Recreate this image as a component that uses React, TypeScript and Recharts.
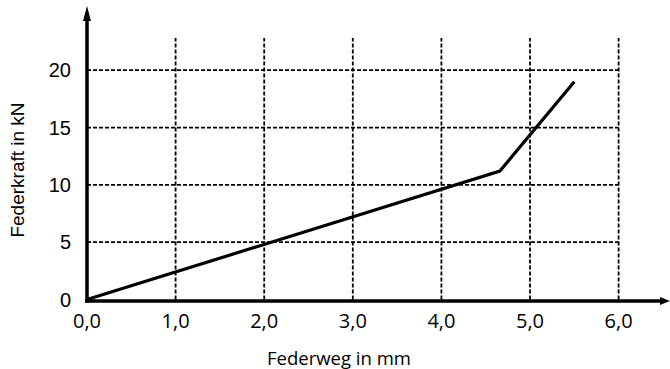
import { Label, Line, LineChart, ReferenceLine, XAxis, YAxis } from "recharts";

const wegMm = [0, 4.66, 5.5];
const kraftKn = [0, 11.2, 19.0];
const xTicks = [0, 1, 2, 3, 4, 5, 6];
const yTicks = [0, 5, 10, 15, 20];
const xLabels = ["0,0", "1,0", "2,0", "3,0", "4,0", "5,0", "6,0"];
const xMax = 6.58;
const yMax = 25.6;
const gridTop = 22.8;

const data = wegMm.map((x, i) => ({ x, y: kraftKn[i] }));

const arial = "'Liberation Sans', Arial, sans-serif";
const calibriLike = "'Open Sans', Lato, sans-serif";

const xTick = (props: any) => {
  const { x, y, index } = props;
  return (
    <text x={x} y={y + 28} textAnchor="middle" fontSize={20} fontFamily={calibriLike} fill="#000">
      {xLabels[index]}
    </text>
  );
};

const yTick = (props: any) => {
  const { x, y, payload } = props;
  return (
    <text x={x - 16} y={y + 7} textAnchor="end" fontSize={20} fontFamily={arial} fill="#000">
      {payload.value}
    </text>
  );
};

function arrowLine(dir: "x" | "y") {
  return (p: any) => {
    const { x1, y1, x2, y2 } = p;
    if (dir === "x") {
      return (
        <g>
          <line x1={x1 - 2} y1={y1 + 1.5} x2={x2 - 6} y2={y2 + 1.5} stroke="#000" strokeWidth={3.5} />
          <polygon points={`${x2},${y2 + 1.5} ${x2 - 10},${y2 - 2.5} ${x2 - 10},${y2 + 5.5}`} fill="#000" />
        </g>
      );
    }
    return (
      <g>
        <line x1={x1} y1={y1 + 3} x2={x2} y2={y2 + 10} stroke="#000" strokeWidth={3.5} />
        <polygon points={`${x2},${y2} ${x2 - 4},${y2 + 15} ${x2 + 4},${y2 + 15}`} fill="#000" />
      </g>
    );
  };
}

export default function App() {
  return (
    <div style={{ position: "absolute", left: 0, top: 0, background: "#fff" }}>
      <LineChart
        width={670}
        height={369}
        data={data}
        margin={{ top: 6, right: 0, bottom: 29.5, left: 47 }}
      >
        <XAxis
          type="number"
          dataKey="x"
          domain={[0, xMax]}
          ticks={xTicks}
          height={40}
          axisLine={false}
          tickLine={false}
          tickSize={0}
          tickMargin={0}
          tick={xTick}
          interval={0}
        >
          <Label
            content={(lp: any) => (
              <text
                x={87 + 252}
                y={lp.viewBox.y + 65.5}
                textAnchor="middle"
                fontSize={18.5}
                fontFamily={calibriLike}
                fill="#000"
              >
                Federweg in mm
              </text>
            )}
          />
        </XAxis>
        <YAxis
          type="number"
          domain={[0, yMax]}
          ticks={yTicks}
          width={40}
          axisLine={false}
          tickLine={false}
          tickSize={0}
          tickMargin={0}
          tick={yTick}
          interval={0}
        >
          <Label
            content={() => (
              <text
                x={17}
                y={170}
                transform="rotate(-90, 17, 170)"
                textAnchor="middle"
                dominantBaseline="central"
                fontSize={19}
                fontFamily={arial}
                fill="#000"
              >
                Federkraft in kN
              </text>
            )}
          />
        </YAxis>
        {xTicks.slice(1).map((t) => (
          <ReferenceLine
            key={"vx" + t}
            segment={[
              { x: t, y: 0 },
              { x: t, y: gridTop },
            ]}
            stroke="#000"
            strokeWidth={1.8}
            strokeDasharray="4 2"
            ifOverflow="visible"
          />
        ))}
        {yTicks.slice(1).map((t) => (
          <ReferenceLine
            key={"hy" + t}
            segment={[
              { x: 0, y: t },
              { x: 6, y: t },
            ]}
            stroke="#000"
            strokeWidth={1.8}
            strokeDasharray="4 2"
            ifOverflow="visible"
          />
        ))}
        <ReferenceLine
          segment={[
            { x: 0, y: 0 },
            { x: xMax, y: 0 },
          ]}
          ifOverflow="visible"
          shape={arrowLine("x")}
        />
        <ReferenceLine
          segment={[
            { x: 0, y: 0 },
            { x: 0, y: yMax },
          ]}
          ifOverflow="visible"
          shape={arrowLine("y")}
        />
        <Line
          type="linear"
          dataKey="y"
          stroke="#000"
          strokeWidth={3.2}
          dot={false}
          isAnimationActive={false}
        />
      </LineChart>
    </div>
  );
}
